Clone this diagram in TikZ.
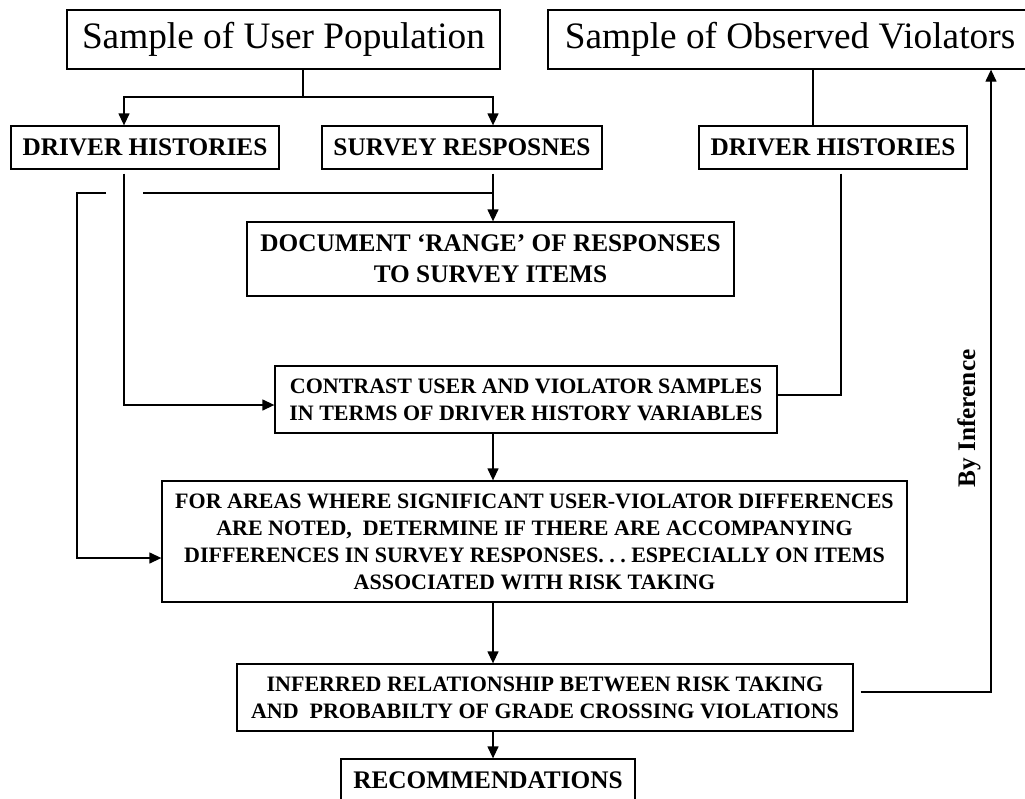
\documentclass[tikz,border=0pt]{standalone}
\usepackage{fontspec}
\setmainfont{Liberation Serif}
\usepackage{tikz}
\usetikzlibrary{arrows.meta}

\tikzset{
    bigbox/.style={draw, line width=1.3pt, inner sep=0pt,
        font=\fontsize{37.3}{44}\selectfont},
    headbox/.style={draw, line width=1.3pt, inner sep=0pt, align=center,
        font=\fontsize{25.3}{31}\selectfont\bfseries},
    stepbox/.style={draw, line width=1.3pt, inner sep=0pt, align=center,
        font=\fontsize{22}{27}\selectfont\bfseries},
    link/.style={line width=1.3pt},
    arrowlink/.style={line width=1.3pt, -{Triangle[length=12pt, width=11pt]}}
}

\begin{document}
\frenchspacing
\begin{tikzpicture}[x=1pt, y=-1pt]
        \useasboundingbox (0, 0) rectangle (1025, 798);
        % boxes
        \node[bigbox, minimum width=484pt, minimum height=59pt]  (violpop)  at (790, 39.5)   {Sample of Observed Violators};
        \node[bigbox, minimum width=433pt, minimum height=59pt]  (userpop)  at (283.5, 39.5) {Sample of User Population};
        \node[headbox, minimum width=268pt, minimum height=43pt] (userhist) at (145, 147.5)  {DRIVER HISTORIES};
        \node[headbox, minimum width=280pt, minimum height=43pt] (survey)   at (462, 147.5)  {SURVEY RESPOSNES};
        \node[headbox, minimum width=268pt, minimum height=43pt] (violhist) at (833, 147.5)  {DRIVER HISTORIES};
        \node[headbox, minimum width=487pt, minimum height=74pt] (range)    at (490.5, 259)
            {DOCUMENT ‘RANGE’ OF RESPONSES\\TO SURVEY ITEMS};
        \node[stepbox, minimum width=502pt, minimum height=67pt] (contrast) at (526, 399.5)
            {CONTRAST USER AND VIOLATOR SAMPLES\\IN TERMS OF DRIVER HISTORY VARIABLES};
        \node[stepbox, minimum width=745pt, minimum height=121pt] (areas)   at (534.5, 541.5)
            {FOR AREAS WHERE SIGNIFICANT USER-VIOLATOR DIFFERENCES\\
             ARE NOTED,\ \ DETERMINE IF THERE ARE ACCOMPANYING\\
             DIFFERENCES IN SURVEY RESPONSES. . . ESPECIALLY ON ITEMS\\
             ASSOCIATED WITH RISK TAKING};
        \node[stepbox, minimum width=616pt, minimum height=67pt] (inferred) at (545, 697.5)
            {INFERRED RELATIONSHIP BETWEEN RISK TAKING\\AND\ \ PROBABILTY OF GRADE CROSSING VIOLATIONS};
        \node[headbox, minimum width=294pt, minimum height=46pt] (recommend) at (488, 782)
            {\raisebox{4pt}{RECOMMENDATIONS}};
        \node[font=\fontsize{25.3}{31}\selectfont\bfseries, rotate=90] (byinf) at (969, 418.5) {By Inference};
        % columns the connectors run along
        \coordinate (spine)   at (493, 0);
        \coordinate (userx)   at (124, 0);
        \coordinate (violx)   at (841, 0);
        \coordinate (obsx)    at (813, 0);
        \coordinate (backx)   at (991, 0);
        \coordinate (split)   at (303, 97);
        \coordinate (branch)  at (493, 193);
        \coordinate (loopx)   at (77, 0);
        % connectors
        \draw[link] (userpop.south -| split) -- (split);
        \draw[arrowlink] (split) -| (userhist.north -| userx);
        \draw[arrowlink] (split) -| (survey.north -| spine);
        \draw[link] (violpop.south -| obsx) -- (violhist.north -| obsx);
        \draw[arrowlink] ([yshift=-4pt]survey.south -| spine) -- (range.north -| spine);
        \draw[link] (branch) -- (143, 193);
        \draw[arrowlink] (106, 193) -| (loopx |- 0, 558) -- (areas.west |- 0, 558);
        \draw[arrowlink] ([yshift=-4pt]userhist.south -| userx) |- (contrast.west |- 0, 405);
        \draw[link] ([yshift=-4pt]violhist.south -| violx) |- (contrast.east |- 0, 395);
        \draw[arrowlink] (contrast.south -| spine) -- (areas.north -| spine);
        \draw[arrowlink] (areas.south -| spine) -- (inferred.north -| spine);
        \draw[arrowlink] (inferred.south -| spine) -- (recommend.north -| spine);
        \draw[arrowlink] ([xshift=7pt]inferred.east |- 0, 692) -| (violpop.south -| backx);
    \end{tikzpicture}
\end{document}
